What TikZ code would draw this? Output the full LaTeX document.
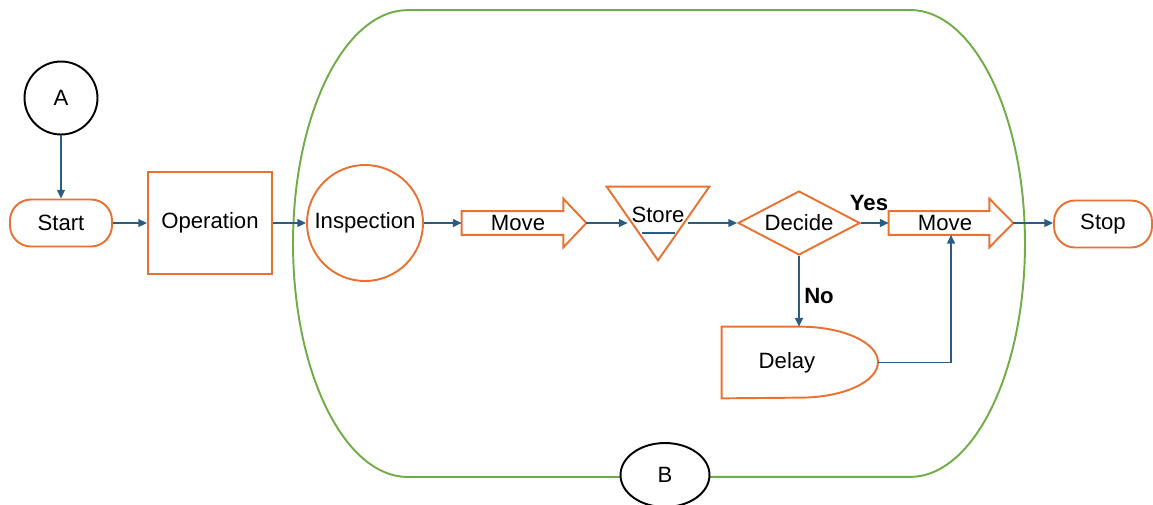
\documentclass[tikz,border=0pt]{standalone}
\usepackage{fontspec}
\setmainfont{Liberation Sans}
\usetikzlibrary{arrows.meta,shapes.geometric,calc}

\definecolor{flowline}{RGB}{40,92,132}
\definecolor{shapeedge}{RGB}{233,113,50}
\definecolor{zoneedge}{RGB}{112,173,71}

\tikzset{
  flowarrow/.style={draw=flowline, line width=0.85pt, -{Triangle[length=5pt,width=4.5pt]}},
  flowlink/.style={draw=flowline, line width=0.85pt},
  outline/.style={draw=shapeedge, line width=1.1pt},
  terminal/.style={outline, rectangle, rounded corners=0.42cm, minimum width=2.04cm, minimum height=0.94cm, inner sep=0pt},
  process/.style={outline, rectangle, minimum width=2.48cm, minimum height=2.04cm, inner sep=0pt},
  check/.style={outline, circle, minimum size=2.32cm, inner sep=0pt},
  decision/.style={outline, diamond, aspect=1.9, minimum width=2.44cm, minimum height=1.28cm, inner sep=0pt},
  hollow/.style={rectangle, draw=none, inner sep=0pt},
  connector/.style={draw=black, line width=1.1pt, fill=white, inner sep=0pt},
  tag/.style={font=\fontsize{12.6}{15}\selectfont\bfseries, inner sep=0pt},
}

\begin{document}
\begin{tikzpicture}[x=0.02cm, y=-0.02cm, font=\fontsize{12.6}{15}\selectfont]
\useasboundingbox (0,0) rectangle (1153,504);

% boundary of the inner zone
\draw[draw=zoneedge, line width=1.1pt]
  (408,10) -- (910,10)
  arc[start angle=90, end angle=-90, x radius=2.3cm, y radius=4.67cm]
  -- (408,477)
  arc[start angle=270, end angle=90, x radius=2.3cm, y radius=4.67cm]
  -- cycle;

% off-page connectors
\node[connector, circle, minimum size=1.46cm] (a) at (61,98) {A};
\node[connector, ellipse, minimum width=1.78cm, minimum height=1.28cm] (b) at (665,475) {B};

% main steps
\node[terminal] (start) at (61,223) {Start};
\node[process] (op) at (210,223) {Operation};
\node[check] (insp) at (365,223) {Inspection};

% first transport step (block arrow)
\node[hollow, minimum width=2.48cm, minimum height=0.46cm] (move1) at (524,223) {\hspace*{-0.24cm}Move};
\draw[outline] (move1.north west) -- ($(move1.north east)+(-23,0)$) -- ++(0,-12.5)
  -- (move1.east) -- ($(move1.south east)+(-23,12.5)$) -- ++(0,-12.5)
  -- (move1.south west) -- cycle;

% storage (inverted triangle)
\node[hollow, minimum width=2.04cm, minimum height=1.46cm] (store) at (658,223.5) {};
\draw[outline] (store.north west) -- (store.north east) -- (store.south) -- cycle;
\node[inner sep=2pt] (storetxt) at ([yshift=0.17cm]store.center) {Store};
\draw[flowlink] ($(store.center)+(-16,9.5)$) -- ($(store.center)+(17,9.5)$);

\node[decision] (decide) at (799,223) {Decide};

% second transport step (block arrow)
\node[hollow, minimum width=2.48cm, minimum height=0.46cm] (move2) at (951,223) {\hspace*{-0.24cm}Move};
\draw[outline] (move2.north west) -- ($(move2.north east)+(-24,0)$) -- ++(0,-12.5)
  -- (move2.east) -- ($(move2.south east)+(-24,12.5)$) -- ++(0,-12.5)
  -- (move2.south west) -- cycle;

\node[terminal, minimum width=1.96cm] (stop) at (1103,224) {Stop};

% delay (D shape)
\node[hollow, minimum width=3.12cm, minimum height=1.42cm] (delay) at (800,362.5) {\hspace*{-0.52cm}Delay};
\draw[outline] (delay.north west) -- (delay.north)
  arc[start angle=90, end angle=-90, x radius=1.56cm, y radius=0.71cm]
  -- (delay.south west) -- cycle;

% flow
\draw[flowarrow] (a) -- (start);
\draw[flowarrow] (start) -- (op);
\draw[flowarrow] (op) -- (insp);
\draw[flowarrow] (insp) -- (move1.west);
\draw[flowarrow] (move1.east) -- (move1.east -| storetxt.west);
\draw[flowarrow] (storetxt.east |- decide.west) -- (decide.west);
\draw[flowarrow] (decide.east) -- (move2.west);
\draw[flowarrow] (move2.east) -- (move2.east -| stop.west);
\draw[flowarrow] (decide.south) -- (decide.south |- delay.north);
\draw[flowarrow] (delay.east) -| (move2.south);

% branch labels
\node[tag] (yes) at (869,203) {Yes};
\node[tag] (no) at (819,296) {No};
\end{tikzpicture}
\end{document}
